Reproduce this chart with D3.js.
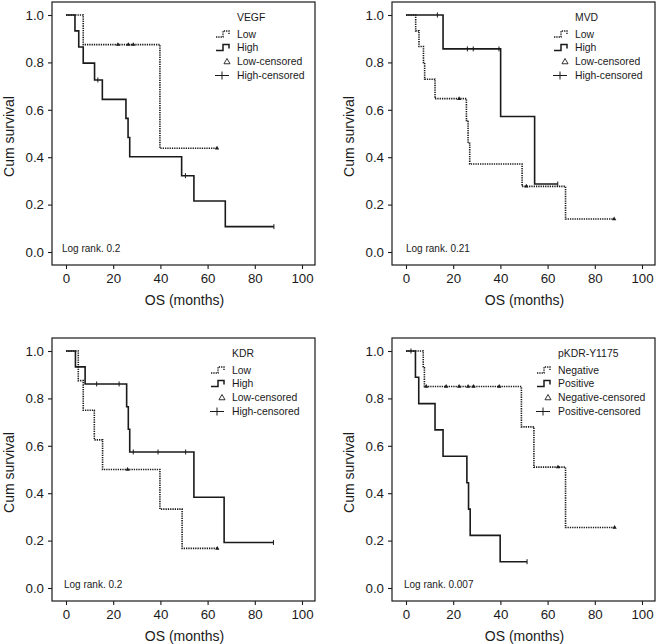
<!DOCTYPE html>
<html>
<head>
<meta charset="utf-8">
<script src="https://cdn.jsdelivr.net/npm/d3@7"></script>
<style>
  html, body { margin: 0; padding: 0; background: #fff; }
  svg { display: block; font-family: Arial, "Liberation Sans", Helvetica, sans-serif; }
</style>
</head>
<body>
<svg id="chart" width="657" height="644"></svg>
<script>
// ---------------- DATA ----------------
const xTicks = [0, 20, 40, 60, 80, 100];
const yTicks = [0.0, 0.2, 0.4, 0.6, 0.8, 1.0];
const xTitle = "OS (months)";
const yTitle = "Cum survival";

// Panel A: VEGF  [time (months), cumulative survival after event]
const vegfLowEvents  = [[7.3, 0.875], [39.8, 0.4375]];
const vegfLowCens    = [22.0, 26.4, 28.5, 64.0];
const vegfHighEvents = [[3.8, 0.933], [5.4, 0.865], [7.3, 0.797], [12.1, 0.726], [15.4, 0.644],
                        [25.4, 0.564], [26.3, 0.483], [27.0, 0.402], [49.0, 0.322], [54.2, 0.215], [67.5, 0.107]];
const vegfHighCens   = [13.5, 50.6, 88.1];

// Panel B: MVD
const mvdLowEvents  = [[4.1, 0.933], [5.5, 0.867], [7.4, 0.800], [7.9, 0.729], [12.3, 0.647],
                       [25.6, 0.555], [26.3, 0.459], [27.0, 0.371], [49.2, 0.277], [67.6, 0.139]];
const mvdLowCens    = [22.5, 51.0, 88.2];
const mvdHighEvents = [[15.7, 0.857], [40.1, 0.572], [54.5, 0.287]];
const mvdHighCens   = [13.3, 26.0, 28.5, 39.4, 64.3];

// Panel C: KDR
const kdrLowEvents  = [[5.2, 0.875], [7.3, 0.750], [12.0, 0.625], [15.5, 0.500], [39.8, 0.333], [49.2, 0.167]];
const kdrLowCens    = [26.1, 64.1];
const kdrHighEvents = [[4.0, 0.933], [8.1, 0.861], [25.7, 0.765], [26.4, 0.670], [27.0, 0.574],
                       [54.2, 0.383], [67.0, 0.192]];
const kdrHighCens   = [13.0, 22.5, 28.5, 39.0, 50.7, 87.9];

// Panel D: pKDR-Y1175
const pkdrNegEvents = [[7.3, 0.929], [7.8, 0.850], [48.9, 0.680], [54.2, 0.510], [67.6, 0.255]];
const pkdrNegCens   = [8.6, 17.0, 22.5, 26.3, 28.6, 39.5, 64.4, 88.4];
const pkdrPosEvents = [[4.0, 0.889], [5.4, 0.778], [12.3, 0.667], [15.7, 0.556], [25.8, 0.444],
                       [26.5, 0.333], [27.2, 0.222], [39.9, 0.111]];
const pkdrPosCens   = [2.1, 51.3];

const panelTitles = ["VEGF", "MVD", "KDR", "pKDR-Y1175"];
const lowLabels   = ["Low", "Low", "Low", "Negative"];
const highLabels  = ["High", "High", "High", "Positive"];
const logRanks    = ["Log rank. 0.2", "Log rank. 0.21", "Log rank. 0.2", "Log rank. 0.007"];

// ---------------- LAYOUT ----------------
const panels = [
  {box: [52, 315, 2, 265],   legX: 237, low: [vegfLowEvents, vegfLowCens],  high: [vegfHighEvents, vegfHighCens], lrX: 62},
  {box: [392, 655, 2, 265],  legX: 575, low: [mvdLowEvents, mvdLowCens],    high: [mvdHighEvents, mvdHighCens],   lrX: 406},
  {box: [52, 315, 338, 601], legX: 232, low: [kdrLowEvents, kdrLowCens],    high: [kdrHighEvents, kdrHighCens],   lrX: 64},
  {box: [392, 655, 338, 601],legX: 558, low: [pkdrNegEvents, pkdrNegCens],  high: [pkdrPosEvents, pkdrPosCens],  lrX: 404}
];

const svg = d3.select("#chart");
const ink = "#1a1a1a";

function survAt(events, t) {
  let s = 1;
  for (const [et, es] of events) if (et <= t) s = es;
  return s;
}
function stepPoints(events, cens) {
  const pts = [[0, 1]];
  let prev = 1;
  for (const [t, s] of events) { pts.push([t, prev]); pts.push([t, s]); prev = s; }
  const lastT = Math.max(events.length ? events[events.length - 1][0] : 0, ...cens);
  pts.push([lastT, prev]);
  return pts;
}

panels.forEach((p, i) => {
  const [x0, x1, y0, y1] = p.box;
  const x = d3.scaleLinear().domain([0, 100]).range([x0 + 14, x1 - 13]);
  const y = d3.scaleLinear().domain([0, 1]).range([y1 - 13, y0 + 13]);
  const g = svg.append("g");

  // frame
  g.append("rect").attr("x", x0).attr("y", y0).attr("width", x1 - x0).attr("height", y1 - y0)
    .attr("fill", "none").attr("stroke", ink).attr("stroke-width", 1.2);

  // axes
  const ax = g.append("g").attr("transform", `translate(0,${y1})`)
    .call(d3.axisBottom(x).tickValues(xTicks).tickSize(4).tickPadding(5).tickFormat(d3.format("d")));
  const ay = g.append("g").attr("transform", `translate(${x0},0)`)
    .call(d3.axisLeft(y).tickValues(yTicks).tickSize(4).tickPadding(4).tickFormat(d3.format(".1f")));
  [ax, ay].forEach(a => {
    a.select(".domain").remove();
    a.selectAll("line").attr("stroke", ink).attr("stroke-width", 1.1);
    a.selectAll("text").attr("fill", ink).style("font-size", "13.3px")
      .style("font-family", 'Arial, "Liberation Sans", sans-serif');
  });

  // axis titles
  g.append("text").attr("x", (x0 + x1) / 2 + 1).attr("y", y1 + 40).attr("text-anchor", "middle")
    .attr("fill", ink).style("font-size", "14px").text(xTitle);
  g.append("text").attr("transform", `translate(${x0 - 38.5},${(y0 + y1) / 2 + 3}) rotate(-90)`)
    .attr("text-anchor", "middle").attr("fill", ink).style("font-size", "14px").text(yTitle);

  const line = d3.line().x(d => x(d[0])).y(d => y(d[1]));

  // low (dotted) curve
  g.append("path").attr("d", line(stepPoints(p.low[0], p.low[1])))
    .attr("fill", "none").attr("stroke", ink).attr("stroke-width", 1.6).attr("stroke-dasharray", "1.3,1");
  // high (solid) curve
  g.append("path").attr("d", line(stepPoints(p.high[0], p.high[1])))
    .attr("fill", "none").attr("stroke", ink).attr("stroke-width", 1.6);

  // censored marks
  g.selectAll(".lc").data(p.low[1]).enter().append("path")
    .attr("transform", d => `translate(${x(d)},${y(survAt(p.low[0], d))})`)
    .attr("d", d3.symbol(d3.symbolTriangle, 8)).attr("fill", ink);
  g.selectAll(".hc").data(p.high[1]).enter().append("line")
    .attr("x1", d => x(d)).attr("x2", d => x(d))
    .attr("y1", d => y(survAt(p.high[0], d)) - 2.5).attr("y2", d => y(survAt(p.high[0], d)) + 2.5)
    .attr("stroke", ink).attr("stroke-width", 1);

  // legend
  const lx = p.legX, ly = y0;
  const fs = "10.4px";
  g.append("text").attr("x", lx).attr("y", ly + 19).attr("fill", ink).style("font-size", fs).text(panelTitles[i]);
  const rows = [ly + 32, ly + 45.5, ly + 59.5, ly + 73.5];
  const labels = [lowLabels[i], highLabels[i], lowLabels[i] + "-censored", highLabels[i] + "-censored"];
  rows.forEach((ry, k) => {
    g.append("text").attr("x", lx).attr("y", ry + 3.7).attr("fill", ink).style("font-size", fs).text(labels[k]);
  });
  const sx = lx - 21;
  const stepSym = `M${sx},${rows[0] + 3}H${sx + 7}V${rows[0] - 3}H${sx + 13}V${rows[0] + 1}`;
  g.append("path").attr("d", stepSym).attr("fill", "none").attr("stroke", ink)
    .attr("stroke-width", 1.4).attr("stroke-dasharray", "1.3,1");
  g.append("path").attr("d", `M${sx},${rows[1] + 3}H${sx + 7}V${rows[1] - 3}H${sx + 13}V${rows[1] + 1}`)
    .attr("fill", "none").attr("stroke", ink).attr("stroke-width", 1.5);
  g.append("path").attr("transform", `translate(${lx - 10},${rows[2] + 0.5})`)
    .attr("d", d3.symbol(d3.symbolTriangle, 16)).attr("fill", "none").attr("stroke", ink).attr("stroke-width", 0.9);
  g.append("line").attr("x1", sx - 1).attr("x2", sx + 13).attr("y1", rows[3]).attr("y2", rows[3])
    .attr("stroke", ink).attr("stroke-width", 1);
  g.append("line").attr("x1", sx + 6).attr("x2", sx + 6).attr("y1", rows[3] - 4).attr("y2", rows[3] + 4)
    .attr("stroke", ink).attr("stroke-width", 1);

  // log rank
  g.append("text").attr("x", p.lrX).attr("y", y1 - 13.5).attr("fill", ink).style("font-size", "10px").text(logRanks[i]);
});
</script>
</body>
</html>
